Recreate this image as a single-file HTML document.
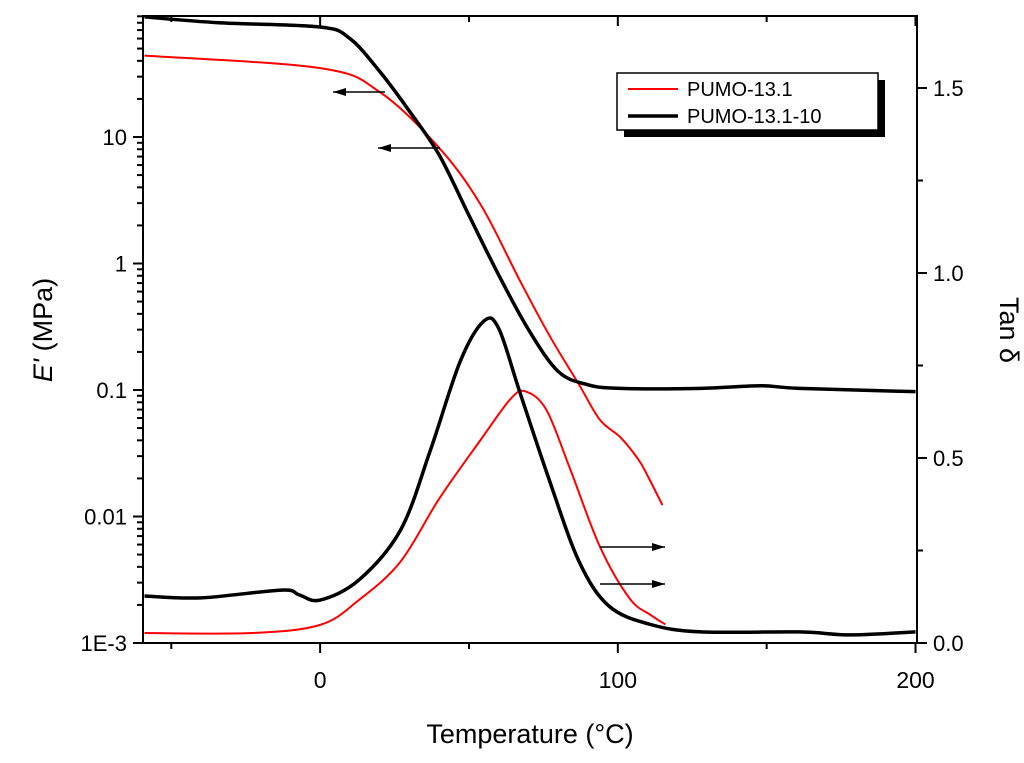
<!DOCTYPE html>
<html><head><meta charset="utf-8"><style>
body{margin:0;background:#fff;}
svg{display:block;font-family:"Liberation Sans",Arial,sans-serif;}
</style></head><body>
<svg id="c" width="1024" height="763"></svg>
<script>
const tempCats=[-60,-40,-20,0,20,40,60,80,100,120,140,160,180,200];
const redET=[-59,0,20,40,54,67,77,87,94,101,107,110,115];
const redEV=[44,35,22.7,8.2,2.9,0.74,0.27,0.11,0.058,0.042,0.028,0.021,0.0123];
const blkET=[-59,-34,0,10,20,30,40,50,60,70,80,90,101,128,148,161,200];
const blkEV=[89,80,74,60,33,16,7.2,2.4,0.81,0.3,0.14,0.11,0.103,0.103,0.108,0.103,0.097];
const redTT=[-59,-23,0,13,27,40,54,64,69,76,84,94,104,111,116];
const redTV=[0.027,0.027,0.049,0.116,0.22,0.39,0.55,0.66,0.68,0.63,0.47,0.26,0.12,0.076,0.05];
const blkTT=[-59,-40,-13,-7,0,13,27,37,47,55,60,67,77,87,97,111,128,161,178,200];
const blkTV=[0.127,0.122,0.143,0.13,0.116,0.17,0.305,0.52,0.76,0.87,0.85,0.68,0.44,0.22,0.10,0.05,0.03,0.03,0.022,0.03];
const xTicks=[0,100,200];
const yTicksL=[0.001,0.01,0.1,1,10];
const yLabelsL=["1E-3","0.01","0.1","1","10"];
const yTicksR=[0,0.5,1,1.5];
const yLabelsR=["0.0","0.5","1.0","1.5"];

const L=143,R=917,T=16,B=643;
const X=t=>L+(t+59.5)*(R-L)/260;
const YL=v=>B-(Math.log10(v)+3)*126.5;
const YR=v=>B-v*370;
const svg=document.getElementById('c');
const NS='http://www.w3.org/2000/svg';
function mk(tag,attrs,parent){const e=document.createElementNS(NS,tag);for(const k in attrs)e.setAttribute(k,attrs[k]);(parent||svg).appendChild(e);return e;}

function smooth(pts){
  let d='M'+pts[0][0]+','+pts[0][1];
  for(let i=0;i<pts.length-1;i++){
    const p0=pts[Math.max(0,i-1)],p1=pts[i],p2=pts[i+1],p3=pts[Math.min(pts.length-1,i+2)];
    const c1=[p1[0]+(p2[0]-p0[0])/6,p1[1]+(p2[1]-p0[1])/6];
    const c2=[p2[0]-(p3[0]-p1[0])/6,p2[1]-(p3[1]-p1[1])/6];
    d+=` C${c1[0]},${c1[1]} ${c2[0]},${c2[1]} ${p2[0]},${p2[1]}`;
  }
  return d;
}
function line(ts,vs,fy,color,w,name){
  const p=mk('path',{d:smooth(ts.map((t,i)=>[X(t),fy(vs[i])])),fill:'none',stroke:color,'stroke-width':w,'stroke-linejoin':'round'});
  
  
}
line(redET,redEV,YL,'#f00',2,'pumo-13.1-modulus-line');
line(blkET,blkEV,YL,'#000',3.5,'pumo-13.1-10-modulus-line');
line(redTT,redTV,YR,'#f00',2,'pumo-13.1-tan-delta-line');
line(blkTT,blkTV,YR,'#000',3.5,'pumo-13.1-10-tan-delta-line');

const fr=mk('rect',{x:L,y:T,width:R-L,height:B-T,fill:'none',stroke:'#000','stroke-width':2});



for(let t=-50;t<=200;t+=50){
  const maj=xTicks.includes(t);const len=maj?10:6;
  mk('line',{x1:X(t),x2:X(t),y1:B,y2:B+len,stroke:'#000','stroke-width':2});
  mk('line',{x1:X(t),x2:X(t),y1:T,y2:T+len,stroke:'#000','stroke-width':2});
}
xTicks.forEach(t=>{const e=mk('text',{x:X(t),y:B+45,'font-size':23,'text-anchor':'middle'});e.textContent=t;
  
  });
for(let d=-3;d<=1;d++){for(let m=1;m<10;m++){const v=m*Math.pow(10,d);const y=YL(v);if(y<T)continue;
  mk('line',{x1:L-(m==1?10:6),x2:L,y1:y,y2:y,stroke:'#000','stroke-width':2});}}
yTicksL.forEach((v,i)=>{const e=mk('text',{x:L-16,y:YL(v)+8,'font-size':22,'text-anchor':'end'});e.textContent=yLabelsL[i];
  
  });
for(let v=0;v<=1.65;v+=0.25){const y=YR(v);const maj=Math.abs(v*2-Math.round(v*2))<1e-6;
  mk('line',{x1:R,x2:R+(maj?10:6),y1:y,y2:y,stroke:'#000','stroke-width':2});}
yTicksR.forEach((v,i)=>{const e=mk('text',{x:R+16,y:YR(v)+8,'font-size':22});e.textContent=yLabelsR[i];
  
  });

function arrow(x1,y,x2,name){
  const g=mk('g',{});
  mk('line',{x1:x1,x2:x2,y1:y,y2:y,stroke:'#000','stroke-width':1.5},g);
  const d=x2<x1?1:-1;
  mk('polygon',{points:`${x2},${y} ${x2+d*13},${y-4} ${x2+d*13},${y+4}`,fill:'#000'},g);
}
arrow(385,92,333,'arrow-left-1');
arrow(440,148,378,'arrow-left-2');
arrow(600,547,665,'arrow-right-1');
arrow(600,584,665,'arrow-right-2');

const lg=mk('g',{});
mk('rect',{x:624,y:80,width:261,height:57,fill:'#000'},lg);
mk('rect',{x:617,y:73,width:261,height:57,fill:'#fff',stroke:'#000','stroke-width':1.5},lg);
mk('line',{x1:628,x2:678,y1:89,y2:89,stroke:'#f00','stroke-width':2},lg);
mk('line',{x1:628,x2:678,y1:116,y2:116,stroke:'#000','stroke-width':3.5},lg);
let t1=mk('text',{x:687,y:96,'font-size':20},lg);t1.textContent='PUMO-13.1';

let t2=mk('text',{x:687,y:123,'font-size':20},lg);t2.textContent='PUMO-13.1-10';


let xt=mk('text',{x:530,y:743,'font-size':27,'text-anchor':'middle'});xt.innerHTML='Temperature (°C)';

let yl=mk('text',{x:0,y:0,'font-size':27,'text-anchor':'middle',transform:'translate(52,330) rotate(-90)'});
yl.innerHTML='<tspan font-style="italic">E\'</tspan> (MPa)';

let yr=mk('text',{x:0,y:0,'font-size':27,'text-anchor':'middle',transform:'translate(1000,330) rotate(90)'});
yr.textContent='Tan δ';

</script>
</body></html>
